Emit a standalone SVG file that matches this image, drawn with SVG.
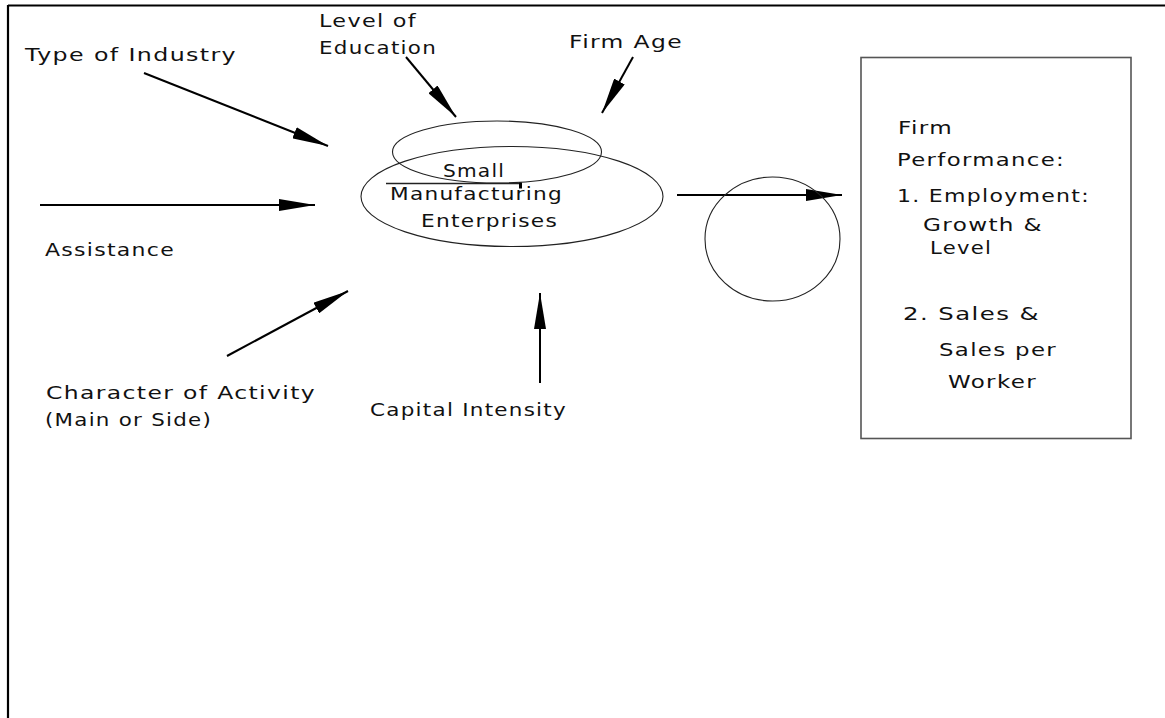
<svg xmlns="http://www.w3.org/2000/svg" width="1165" height="718" viewBox="0 0 1165 718">
<defs>
<style>
text{font-family:"DejaVu Sans","Liberation Sans",sans-serif;font-size:17px;letter-spacing:1px;fill:#111;}
.conn{stroke:#000;stroke-width:2;fill:none;}
.shape{stroke:#222;stroke-width:1.1;fill:none;}
</style>
<marker id="ah" markerWidth="36" markerHeight="12" refX="36" refY="6" orient="auto" markerUnits="userSpaceOnUse">
<path d="M0,0 L36,6 L0,12 Z" fill="#000"/>
</marker>
</defs>
<rect width="1165" height="718" fill="#fff"/>
<g id="frame">
<line x1="8" y1="5.5" x2="1165" y2="5.5" stroke="#000" stroke-width="2.2"/>
<line x1="8" y1="5" x2="8" y2="718" stroke="#000" stroke-width="2.2"/>
</g>
<g id="connectors">
<line class="conn" x1="144" y1="73" x2="328" y2="146" marker-end="url(#ah)"/>
<line class="conn" x1="406" y1="57" x2="456" y2="117" marker-end="url(#ah)"/>
<line class="conn" x1="633" y1="57" x2="602" y2="113" marker-end="url(#ah)"/>
<line class="conn" x1="40" y1="205" x2="315" y2="205" marker-end="url(#ah)"/>
<line class="conn" x1="227" y1="356" x2="348" y2="291" marker-end="url(#ah)"/>
<line class="conn" x1="540" y1="383" x2="540" y2="293" marker-end="url(#ah)"/>
<line class="conn" x1="677" y1="195" x2="842" y2="195" marker-end="url(#ah)"/>
</g>
<g id="type-of-industry"><text x="25" y="61" textLength="212" lengthAdjust="spacingAndGlyphs">Type of Industry</text></g>
<g id="level-of-education">
<text x="319" y="27" textLength="98" lengthAdjust="spacingAndGlyphs">Level of</text>
<text x="319" y="54" textLength="118" lengthAdjust="spacingAndGlyphs">Education</text>
</g>
<g id="firm-age"><text x="569" y="48" textLength="114" lengthAdjust="spacingAndGlyphs">Firm Age</text></g>
<g id="sme">
<ellipse class="shape" cx="497" cy="152" rx="104.5" ry="31"/>
<ellipse class="shape" cx="512" cy="196.5" rx="151" ry="50"/>
<text x="443" y="177" textLength="62" lengthAdjust="spacingAndGlyphs">Small</text>
<line x1="386" y1="183.5" x2="521" y2="183.5" stroke="#222" stroke-width="1.6"/>
<rect x="519" y="182.5" width="3" height="6" fill="#000"/>
<text x="390" y="200" textLength="173" lengthAdjust="spacingAndGlyphs">Manufacturing</text>
<text x="421" y="227" textLength="137" lengthAdjust="spacingAndGlyphs">Enterprises</text>
</g>
<g id="assistance"><text x="45" y="256" textLength="130" lengthAdjust="spacingAndGlyphs">Assistance</text></g>
<g id="character-of-activity">
<text x="46" y="399" textLength="270" lengthAdjust="spacingAndGlyphs">Character of Activity</text>
<text x="45" y="426" textLength="167" lengthAdjust="spacingAndGlyphs">(Main or Side)</text>
</g>
<g id="capital-intensity"><text x="370" y="416" textLength="197" lengthAdjust="spacingAndGlyphs">Capital Intensity</text></g>
<g id="circle"><ellipse class="shape" cx="772.5" cy="239" rx="67.5" ry="62"/></g>
<g id="firm-performance">
<rect x="861" y="57.5" width="270" height="381" fill="none" stroke="#555" stroke-width="1.6"/>
<text x="898" y="134" textLength="55" lengthAdjust="spacingAndGlyphs">Firm</text>
<text x="897" y="166" textLength="168" lengthAdjust="spacingAndGlyphs">Performance:</text>
<text x="897" y="202" textLength="193" lengthAdjust="spacingAndGlyphs">1. Employment:</text>
<text x="923" y="230.5" textLength="120" lengthAdjust="spacingAndGlyphs">Growth &amp;</text>
<text x="930" y="254" textLength="62" lengthAdjust="spacingAndGlyphs">Level</text>
<text x="903" y="320" textLength="137" lengthAdjust="spacingAndGlyphs">2. Sales &amp;</text>
<text x="939" y="356" textLength="118" lengthAdjust="spacingAndGlyphs">Sales per</text>
<text x="948" y="388" textLength="89" lengthAdjust="spacingAndGlyphs">Worker</text>
</g>
</svg>
